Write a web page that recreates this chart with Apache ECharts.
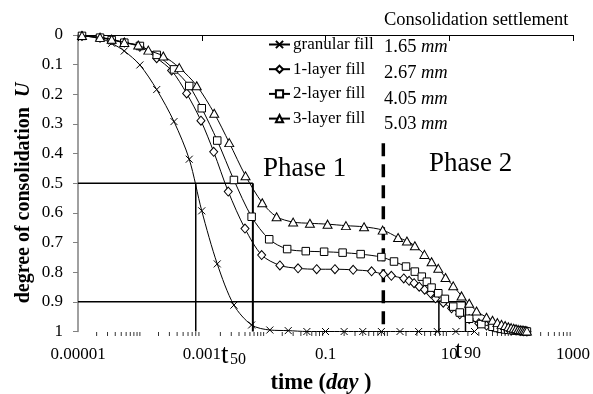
<!DOCTYPE html>
<html><head><meta charset="utf-8">
<script src="https://cdn.jsdelivr.net/npm/echarts@6/dist/echarts.min.js"></script>
<style>html,body{margin:0;padding:0;background:#fff}#c{width:593px;height:394px}</style>
</head><body><div id="c"></div>
<script>
const FONT = "'Liberation Serif','Times New Roman',serif";

const seriesNames = ['granular fill', '1-layer fill', '2-layer fill', '3-layer fill'];

const granularT = [1.16e-5, 2.27e-5, 3.5e-5, 5.6e-5, 1.0e-4, 1.87e-4, 3.56e-4, 6.28e-4, 1.0e-3, 1.78e-3, 3.31e-3, 6.4e-3, 0.0126, 0.025, 0.05, 0.1, 0.2, 0.4, 0.8, 1.6, 3.2, 6.4, 12.8, 25.6];
const granularU = [0.003, 0.011, 0.028, 0.054, 0.101, 0.184, 0.292, 0.419, 0.593, 0.772, 0.911, 0.978, 0.995, 0.997, 1, 1, 1, 1, 1, 1, 1, 1, 1, 1];

const layer1T = [1.16e-5, 2.27e-5, 3.5e-5, 5.6e-5, 1.0e-4, 1.87e-4, 3.26e-4, 5.7e-4, 9.7e-4, 1.56e-3, 2.68e-3, 5.0e-3, 9.3e-3, 0.0183, 0.036, 0.072, 0.142, 0.28, 0.556, 0.86, 1.16, 1.84, 2.25, 2.7, 3.27, 4.0, 5.0, 6.0, 8.0, 10.9, 14.8, 21, 30, 40, 50, 60, 70, 80, 100, 120, 140, 160, 180];
const layer1U = [0.003, 0.009, 0.016, 0.025, 0.040, 0.078, 0.120, 0.197, 0.289, 0.394, 0.528, 0.653, 0.742, 0.777, 0.787, 0.790, 0.790, 0.792, 0.797, 0.807, 0.812, 0.821, 0.829, 0.837, 0.849, 0.859, 0.871, 0.888, 0.903, 0.922, 0.942, 0.958, 0.972, 0.980, 0.985, 0.989, 0.991, 0.993, 0.995, 0.997, 0.998, 0.999, 1.0];

const layer2T = [1.16e-5, 2.27e-5, 3.5e-5, 5.6e-5, 1.0e-4, 1.87e-4, 3.56e-4, 6.28e-4, 1.0e-3, 1.78e-3, 3.31e-3, 6.4e-3, 0.0123, 0.024, 0.048, 0.095, 0.189, 0.37, 0.8, 1.28, 2.0, 2.78, 3.6, 4.35, 5.18, 6.65, 8.5, 11.6, 14.8, 21, 33, 50, 60, 70, 80, 90, 100, 110, 120, 130, 140, 150, 160, 170, 180];
const layer2U = [0.003, 0.009, 0.017, 0.026, 0.037, 0.067, 0.116, 0.172, 0.247, 0.356, 0.489, 0.613, 0.689, 0.722, 0.729, 0.731, 0.734, 0.739, 0.749, 0.764, 0.781, 0.798, 0.815, 0.832, 0.852, 0.871, 0.890, 0.916, 0.936, 0.957, 0.975, 0.984, 0.988, 0.991, 0.993, 0.994, 0.995, 0.996, 0.997, 0.997, 0.998, 0.998, 0.999, 0.999, 1.0];

const layer3T = [1.16e-5, 2.27e-5, 3.5e-5, 5.6e-5, 9.4e-5, 1.37e-4, 2.39e-4, 4.33e-4, 8.3e-4, 1.59e-3, 2.78e-3, 5.1e-3, 9.5e-3, 0.0162, 0.030, 0.056, 0.108, 0.214, 0.42, 0.84, 1.49, 2.07, 2.78, 3.97, 5.18, 6.65, 8.7, 11.6, 15.8, 21, 27.6, 40, 50, 60, 70, 80, 90, 100, 110, 120, 130, 140, 150, 160, 170, 180];
const layer3U = [0.002, 0.008, 0.0145, 0.025, 0.034, 0.051, 0.071, 0.110, 0.171, 0.264, 0.363, 0.475, 0.566, 0.613, 0.631, 0.635, 0.638, 0.643, 0.647, 0.658, 0.683, 0.695, 0.711, 0.740, 0.765, 0.787, 0.818, 0.846, 0.880, 0.905, 0.931, 0.952, 0.962, 0.970, 0.976, 0.980, 0.984, 0.987, 0.989, 0.991, 0.993, 0.994, 0.995, 0.996, 0.997, 0.998];

const xTickValues = [1e-5, 1e-3, 0.1, 10, 1000];
const xTickLabels = ['0.00001', '0.001', '0.1', '10', '1000'];

const settlementVals = ['1.65', '2.67', '4.05', '5.03'];

// guide lines (time, U)
const t50Granular = 8.0e-4, t50Layer3 = 6.7e-3;
const t90Left = 6.8, t90Right = 18.3;
const phaseBoundary = 0.86, phaseLineTop = 0.365;
const xMin = 1e-5;

const zip = (t, u) => t.map((v, i) => [v, u[i]]);

function mk(name, t, u, symbol, size, z) {
  return {
    name, type: 'line', data: zip(t, u), smooth: 0.3, symbol, symbolSize: size,
    lineStyle: { color: '#000', width: 1 },
    itemStyle: { color: '#fff', borderColor: '#000', borderWidth: 1 },
    emphasis: { disabled: true }, animation: false, z, clip: false
  };
}
function guide(pts, extra) {
  return { type: 'line', data: pts, symbol: 'none', silent: true, animation: false, z: 2,
    lineStyle: Object.assign({ color: '#000', width: 1.5 }, extra) };
}

// minor ticks on the log axis (each 1..9 x 10^k except labelled majors)
const minorTicks = [];
for (let e = -5; e <= 2; e++) {
  for (let m = 1; m <= 9; m++) {
    if (m === 1 && (e + 5) % 2 === 0) continue;
    minorTicks.push([m * Math.pow(10, e), 1]);
  }
}

const chart = echarts.init(document.getElementById('c'), null, { renderer: 'canvas' });

const mid = { textVerticalAlign: 'middle', verticalAlign: 'middle', fill: '#000', fontFamily: FONT };
const graphic = [
  { type: 'text', x: 24, y: 193, rotation: Math.PI / 2,
    style: Object.assign({ text: 'degree of consolidation  {u|U}', fontSize: 20, fontWeight: 'bold',
      textAlign: 'center', align: 'center',
      rich: { u: { fontFamily: FONT, fontSize: 20, fontWeight: 'bold', fontStyle: 'italic', fill: '#000' } } }, mid) },
  { type: 'text', x: 321, y: 383,
    style: Object.assign({ text: 'time ({d|day} )', fontSize: 22.5, fontWeight: 'bold',
      textAlign: 'center', align: 'center',
      rich: { d: { fontFamily: FONT, fontSize: 22.5, fontWeight: 'bold', fontStyle: 'italic', fill: '#000' } } }, mid) },
  { type: 'text', x: 384, y: 20, style: Object.assign({ text: 'Consolidation settlement', fontSize: 18.5 }, mid) },
  { type: 'text', x: 263, y: 169, style: Object.assign({ text: 'Phase 1', fontSize: 27 }, mid) },
  { type: 'text', x: 429, y: 164, style: Object.assign({ text: 'Phase 2', fontSize: 27 }, mid) },
  { type: 'text', x: 221, y: 356, style: Object.assign({ text: 't', fontSize: 27 }, mid) },
  { type: 'text', x: 230, y: 359.5, style: Object.assign({ text: '50', fontSize: 16 }, mid) },
  { type: 'text', x: 455, y: 351, style: Object.assign({ text: 't', fontSize: 26 }, mid) },
  { type: 'text', x: 464, y: 354, style: Object.assign({ text: '90', fontSize: 17 }, mid) }
];
const valYs = [47, 73, 99, 124];
settlementVals.forEach((v, i) => {
  graphic.push({ type: 'text', x: 384, y: valYs[i],
    style: Object.assign({ text: v + ' {i|mm}', fontSize: 18.5,
      rich: { i: { fontFamily: FONT, fontSize: 18.5, fontStyle: 'italic', fill: '#000' } } }, mid) });
});

const option = {
  backgroundColor: '#fff',
  animation: false,
  grid: { left: 78, right: 20, top: 35, bottom: 62.5, containLabel: false },
  xAxis: {
    type: 'log', logBase: 10, min: 1e-5, max: 1000, interval: 2,
    axisLine: { show: true, lineStyle: { color: '#000', width: 1 } },
    axisTick: { show: true, length: 6, lineStyle: { color: '#000' } },
    axisLabel: { margin: 15, fontFamily: FONT, fontSize: 17, color: '#000',
      formatter: v => { const i = xTickValues.findIndex(x => Math.abs(Math.log10(x) - Math.log10(v)) < 1e-6); return i >= 0 ? xTickLabels[i] : ''; } },
    splitLine: { show: false }, minorTick: { show: false }
  },
  yAxis: {
    type: 'value', inverse: true, min: 0, max: 1, interval: 0.1,
    axisLine: { show: true, lineStyle: { color: '#808080', width: 1.5 } },
    axisTick: { show: true, length: 5, lineStyle: { color: '#808080' } },
    axisLabel: { margin: 15, fontFamily: FONT, fontSize: 17, color: '#000' },
    splitLine: { show: false }
  },
  legend: {
    data: seriesNames, orient: 'vertical', left: 263, top: 31,
    itemWidth: 21, itemHeight: 9, itemGap: 7.7,
    textStyle: { fontFamily: FONT, fontSize: 17, color: '#000', padding: [0, 0, 0, -2] },
    selectedMode: false
  },
  graphic,
  series: [
    guide([[xMin, 0.5], [t50Layer3, 0.5]]),
    guide([[t50Granular, 0.5], [t50Granular, 1]]),
    guide([[t50Layer3, 0.5], [t50Layer3, 1]], { width: 2 }),
    guide([[xMin, 0.9], [t90Right, 0.9]]),
    guide([[t90Left, 0.9], [t90Left, 1]]),
    guide([[t90Right, 0.9], [t90Right, 1]]),
    guide([[phaseBoundary, phaseLineTop], [phaseBoundary, 1]], { width: 3.5, type: [13, 8] }),
    { type: 'scatter', data: minorTicks, symbol: 'rect', symbolSize: [1, 4], symbolOffset: [0, 2.5],
      itemStyle: { color: '#000' }, silent: true, clip: false, animation: false, z: 1 },
    mk(seriesNames[0], granularT, granularU, 'path://M0,0L10,10M10,0L0,10', 7, 3),
    mk(seriesNames[1], layer1T, layer1U, 'diamond', [8, 9], 4),
    mk(seriesNames[2], layer2T, layer2U, 'rect', 7.5, 5),
    mk(seriesNames[3], layer3T, layer3U, 'triangle', [9, 8], 6)
  ]
};
chart.setOption(option);
</script></body></html>
